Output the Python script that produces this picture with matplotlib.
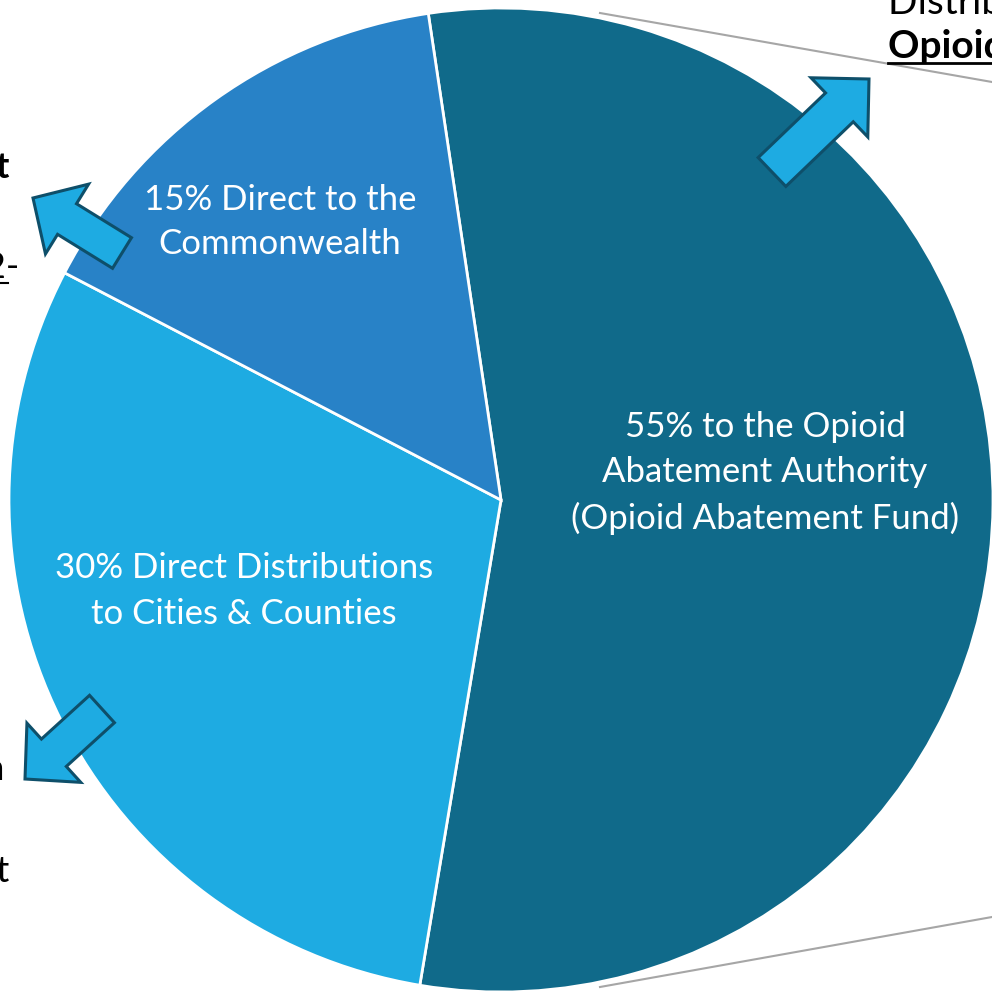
import matplotlib.pyplot as plt
import matplotlib.patches as mpatches

plt.rcParams['font.family'] = ['Lato', 'DejaVu Sans']

H = 992  # canvas size in pixels

labels = ['55% to the Opioid\nAbatement Authority\n(Opioid Abatement Fund)',
          '30% Direct Distributions\nto Cities & Counties',
          '15% Direct to the\nCommonwealth']
shares = [55, 30, 15]
colors = ['#106A8A', '#1EABE2', '#2882C7']
label_pos = [(765, 473), (244, 591), (280, 222)]

# block arrows: tail centre, tip, shaft width, head width, head length
arrows = [((772, 172), (869, 79), 40, 82, 41),
          ((122, 253), (33, 198), 36, 82, 40),
          ((102, 709), (25, 779), 37, 80, 39)]


def Y(y):
    return H - y


fig = plt.figure(figsize=(9.92, 9.92), dpi=100)
ax = fig.add_axes([0, 0, 1, 1])

# leader lines going off to the right-hand box
ax.plot([600, 992], [Y(13), Y(82)], color='#A6A6A6', lw=1.5, zorder=1)
ax.plot([600, 992], [Y(987), Y(917)], color='#A6A6A6', lw=1.5, zorder=1)

wedges, _ = ax.pie(shares, colors=colors, startangle=98.5, counterclock=False,
                   center=(501, Y(500)), radius=492, frame=True,
                   wedgeprops=dict(edgecolor='white', linewidth=2))
for w in wedges:
    w.set_zorder(2)
ax.set_xlim(0, H)
ax.set_ylim(0, H)
ax.axis('off')

for lab, (x, y) in zip(labels, label_pos):
    ax.text(x, Y(y), lab, ha='center', va='center', color='white',
            fontsize=25, linespacing=1.5, zorder=5)

for (tx, ty), (hx, hy), w, hw, hl in arrows:
    ar = mpatches.FancyArrow(tx, Y(ty), hx - tx, Y(hy) - Y(ty), width=w,
                             head_width=hw, head_length=hl,
                             length_includes_head=True,
                             facecolor='#1EABE2', edgecolor='#0E4F6A',
                             linewidth=2.2, zorder=6)
    ax.add_patch(ar)

# text from the surrounding slide, cut off by the crop
ax.text(888, Y(14), 'Distribution to the', ha='left', va='baseline',
        fontsize=28, color='black', zorder=5)
ax.text(888, Y(58), 'Opioid Abatement Fund', ha='left', va='baseline',
        fontsize=28, fontweight='bold', color='black', zorder=5)
ax.plot([888, 992], [Y(63), Y(63)], color='black', lw=2, zorder=5)

ax.text(9, Y(178), 'Direct', ha='right', va='baseline',
        fontsize=26, fontweight='bold', color='black', zorder=5)
ax.text(20, Y(278), 'FY2022-', ha='right', va='baseline',
        fontsize=26, color='black', zorder=5)
ax.plot([0, 8], [Y(283), Y(283)], color='black', lw=1.5, zorder=5)
ax.text(5, Y(780), 'distribution', ha='right', va='baseline',
        fontsize=26, color='black', zorder=5)
ax.text(10, Y(882), 'amount', ha='right', va='baseline',
        fontsize=26, color='black', zorder=5)

fig.savefig('out.png', dpi=100)
